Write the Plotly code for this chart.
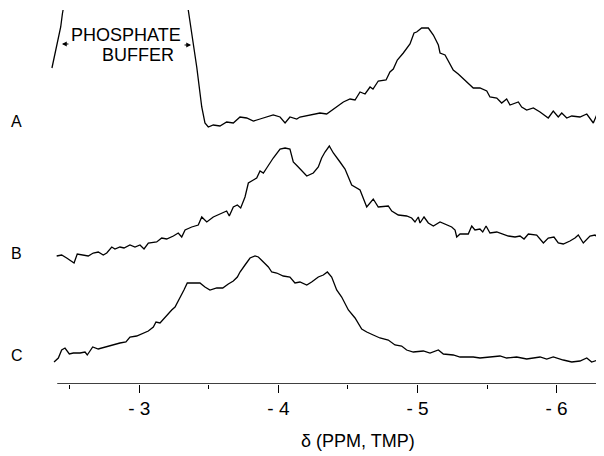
import plotly.graph_objects as go

# chemical shift (ppm vs TMP) and relative intensity (arbitrary units, stacked)
a_ppm = [-2.372, -2.394, -2.418, -2.435, -2.447, -2.452, None,
         -3.352, -3.377, -3.413, -3.449, -3.472, -3.496, -3.532, -3.580, -3.628, -3.676,
         -3.724, -3.772, -3.820, -3.868, -3.916, -3.963, -4.012, -4.048, -4.083, -4.132,
         -4.155, -4.227, -4.299, -4.347, -4.395, -4.467, -4.515, -4.551, -4.587, -4.623,
         -4.659, -4.680, -4.718, -4.774, -4.802, -4.826, -4.855, -4.898, -4.946, -4.975,
         -4.994, -5.030, -5.078, -5.114, -5.150, -5.162, -5.198, -5.257, -5.293, -5.354,
         -5.401, -5.449, -5.498, -5.521, -5.570, -5.605, -5.641, -5.665, -5.725, -5.749,
         -5.785, -5.833, -5.881, -5.940, -5.976, -6.012, -6.037, -6.073, -6.109, -6.168,
         -6.217, -6.264, -6.288, -6.336]
a_int = [315, 330, 345, 356, 369, 373, None,
         373, 350, 316, 276, 260, 256, 258, 257, 261, 260,
         266, 265, 262, 264, 266, 268, 266, 260, 266, 264,
         266, 268, 270, 269, 274, 281, 284, 283, 291, 289,
         296, 294, 302, 303, 311, 314, 323, 330, 339, 350,
         351, 355, 355, 348, 338, 330, 328, 313, 309, 301,
         295, 295, 292, 286, 285, 280, 284, 278, 281, 276,
         273, 275, 271, 265, 272, 266, 270, 265, 267, 266,
         269, 260, 268, 266]

b_ppm = [-2.406, -2.442, -2.478, -2.502, -2.531, -2.554, -2.597, -2.633, -2.669, -2.705,
         -2.741, -2.766, -2.802, -2.825, -2.861, -2.890, -2.933, -2.969, -3.005, -3.034,
         -3.065, -3.125, -3.161, -3.197, -3.245, -3.280, -3.305, -3.329, -3.377, -3.424,
         -3.449, -3.485, -3.532, -3.592, -3.628, -3.647, -3.676, -3.705, -3.729, -3.760,
         -3.784, -3.820, -3.844, -3.868, -3.892, -3.916, -3.963, -4.012, -4.048, -4.083,
         -4.107, -4.143, -4.204, -4.251, -4.287, -4.311, -4.335, -4.366, -4.395, -4.443,
         -4.479, -4.527, -4.587, -4.635, -4.682, -4.718, -4.790, -4.815, -4.862, -4.922,
         -4.958, -4.982, -5.006, -5.018, -5.047, -5.078, -5.114, -5.162, -5.210, -5.246,
         -5.270, -5.282, -5.306, -5.365, -5.390, -5.413, -5.449, -5.469, -5.493, -5.521,
         -5.570, -5.605, -5.653, -5.701, -5.737, -5.766, -5.797, -5.857, -5.905, -5.940,
         -5.981, -6.012, -6.048, -6.096, -6.132, -6.156, -6.192, -6.240, -6.276, -6.300,
         -6.324, -6.341]
b_int = [127, 128, 125, 123, 120, 129, 128, 127, 130, 131,
         128, 130, 136, 134, 136, 135, 138, 136, 138, 134,
         140, 141, 145, 144, 147, 150, 146, 153, 156, 158,
         166, 161, 166, 170, 172, 167, 176, 178, 175, 186,
         200, 203, 205, 212, 210, 215, 225, 234, 235, 234,
         221, 216, 207, 210, 216, 225, 231, 237, 230, 221,
         214, 198, 193, 176, 184, 176, 177, 172, 168, 167,
         165, 161, 166, 160, 166, 160, 157, 161, 158, 156,
         153, 146, 149, 149, 157, 153, 154, 151, 157, 150,
         151, 149, 147, 146, 147, 144, 149, 148, 140, 145,
         146, 140, 139, 142, 145, 148, 140, 147, 148, 145,
         150, 152]

c_ppm = [-2.387, -2.418, -2.442, -2.466, -2.497, -2.526, -2.574, -2.610, -2.626, -2.665,
         -2.705, -2.754, -2.802, -2.861, -2.904, -2.933, -2.981, -3.029, -3.065, -3.101,
         -3.120, -3.149, -3.185, -3.233, -3.257, -3.293, -3.321, -3.345, -3.388, -3.436,
         -3.472, -3.508, -3.557, -3.600, -3.640, -3.676, -3.705, -3.724, -3.760, -3.796,
         -3.832, -3.856, -3.892, -3.928, -3.952, -3.988, -4.035, -4.083, -4.119, -4.155,
         -4.204, -4.239, -4.287, -4.323, -4.352, -4.383, -4.419, -4.455, -4.503, -4.551,
         -4.599, -4.635, -4.682, -4.730, -4.790, -4.838, -4.886, -4.922, -4.970, -5.042,
         -5.090, -5.150, -5.186, -5.257, -5.306, -5.354, -5.401, -5.449, -5.521, -5.593,
         -5.641, -5.713, -5.785, -5.833, -5.881, -5.929, -5.976, -6.048, -6.109, -6.168,
         -6.217, -6.252, -6.300, -6.336]
c_int = [21, 25, 33, 35, 29, 30, 30, 31, 28, 36,
         34, 36, 38, 40, 41, 46, 47, 50, 52, 56,
         61, 60, 66, 73, 76, 85, 93, 100, 100, 100,
         96, 93, 95, 95, 99, 102, 106, 111, 118, 125,
         127, 126, 121, 116, 111, 110, 107, 106, 100, 101,
         98, 101, 106, 108, 111, 106, 93, 86, 73, 65,
         54, 51, 48, 45, 43, 38, 37, 33, 31, 32,
         30, 33, 29, 28, 26, 26, 26, 25, 26, 27,
         25, 26, 24, 25, 26, 24, 26, 23, 21, 22,
         25, 21, 23, 26]

tick_vals = [-3, -4, -5, -6]
tick_text = ["- 3", "- 4", "- 5", "- 6"]
minor_vals = [-2.5, -3.5, -4.5, -5.5]
trace_labels = ["A", "B", "C"]
label_levels = [262, 130, 28]

FONT = "Liberation Sans"
line = dict(color="black", width=1.3)

fig = go.Figure()
for xs, ys in [(a_ppm, a_int), (b_ppm, b_int), (c_ppm, c_int)]:
    fig.add_trace(go.Scatter(x=xs, y=ys, mode="lines", line=line,
                             showlegend=False, hoverinfo="skip", connectgaps=False))

X0, X1 = -2.3437, -6.3408
fig.update_layout(
    width=596, height=448,
    margin=dict(l=40, r=0, t=0, b=72),
    paper_bgcolor="white", plot_bgcolor="white",
    font=dict(family=FONT, color="black"),
    xaxis=dict(range=[X0, X1], showgrid=False, zeroline=False, showline=False,
               tickvals=tick_vals, ticktext=tick_text, ticks="outside",
               ticklen=8, tickwidth=1.3, tickcolor="black", ticklabelstandoff=-1,
               tickfont=dict(size=19, family=FONT, color="black"),
               minor=dict(tickvals=minor_vals, ticks="outside", ticklen=4,
                          tickwidth=1.2, tickcolor="black")),
    yaxis=dict(range=[-1, 375], visible=False, showgrid=False, zeroline=False),
)

# baseline axis line
fig.add_shape(type="line", xref="x", yref="y", x0=-2.41, x1=X1, y0=-1, y1=-1,
              line=dict(color="black", width=1.5))

for lab, lev in zip(trace_labels, label_levels):
    fig.add_annotation(text=lab, xref="paper", yref="y", x=-0.0558, y=lev,
                       showarrow=False, font=dict(size=16, family=FONT),
                       xanchor="center", yanchor="middle")

fig.add_annotation(text="PHOSPHATE", xref="x", yref="y", x=-2.901, y=348.5,
                   showarrow=False, font=dict(size=18, family=FONT),
                   xanchor="center", yanchor="middle")
fig.add_annotation(text="BUFFER", xref="x", yref="y", x=-2.991, y=328.5,
                   showarrow=False, font=dict(size=18, family=FONT),
                   xanchor="center", yanchor="middle")
# arrows pointing to the buffer peak edges
fig.add_annotation(text="", xref="x", yref="y", x=-2.444, y=339, ax=8, ay=0,
                   showarrow=True, arrowhead=2, arrowsize=0.8, arrowwidth=1.2,
                   arrowcolor="black")
fig.add_annotation(text="", xref="x", yref="y", x=-3.372, y=338, ax=-8, ay=0,
                   showarrow=True, arrowhead=2, arrowsize=0.8, arrowwidth=1.2,
                   arrowcolor="black")

fig.add_annotation(text="δ (PPM, TMP)", xref="x", yref="paper", x=-4.572, y=-0.1516,
                   showarrow=False, font=dict(size=18, family=FONT),
                   xanchor="center", yanchor="middle")

fig.write_html("out.html")
